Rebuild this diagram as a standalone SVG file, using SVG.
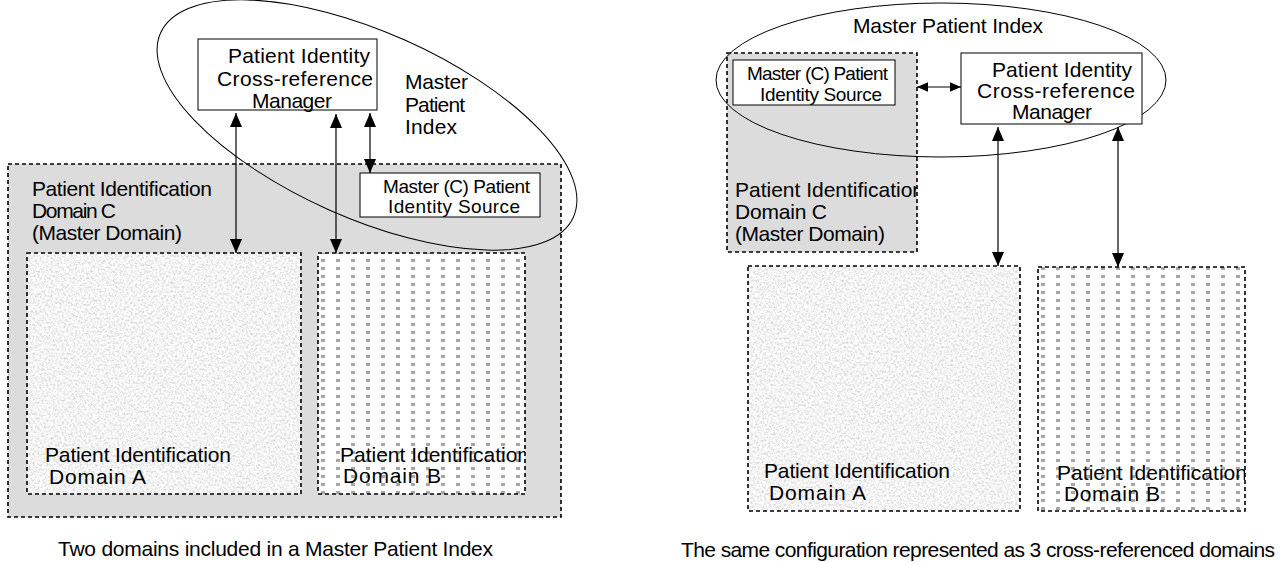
<svg xmlns="http://www.w3.org/2000/svg" width="1280" height="562" viewBox="0 0 1280 562">
<style>
text{font-family:"Liberation Sans",Arial,sans-serif;font-size:21px;fill:#000}
.sm{font-size:19px}
.dash{fill:none;stroke:#000;stroke-width:1.6;stroke-dasharray:4 3}
.gray{fill:#dcdcdc}
.box{fill:#fff;stroke:#000;stroke-width:1}
.mpi{fill:none;stroke:#000;stroke-width:1}
.conn line{stroke:#000;stroke-width:1.2;marker-start:url(#ah);marker-end:url(#ah)}
.conn line.small{marker-start:url(#ahs);marker-end:url(#ahs)}
</style>
<defs>
<marker id="ah" viewBox="0 0 14 12" refX="14" refY="6" markerWidth="14" markerHeight="12" markerUnits="userSpaceOnUse" orient="auto-start-reverse"><path d="M0,0 L14,6 L0,12 Z" fill="#000"/></marker>
<marker id="ahs" viewBox="0 0 14 12" refX="14" refY="6" markerWidth="11" markerHeight="10" markerUnits="userSpaceOnUse" orient="auto-start-reverse"><path d="M0,0 L14,6 L0,12 Z" fill="#000"/></marker>
<filter id="grain" x="0" y="0" width="1" height="1" color-interpolation-filters="sRGB">
<feTurbulence type="fractalNoise" baseFrequency="0.45" numOctaves="3" seed="7"/>
<feColorMatrix type="matrix" values="0.35 0 0 0 0.78  0.35 0 0 0 0.78  0.35 0 0 0 0.78  0 0 0 0 1"/>
</filter>
<pattern id="dots" width="15" height="8" patternUnits="userSpaceOnUse"><rect width="15" height="8" fill="#fff"/><rect x="6" y="3" width="4" height="3" fill="#a6a6a6"/></pattern>
<clipPath id="clipLB"><rect x="318" y="253" width="207" height="241"/></clipPath>
<clipPath id="clipRB"><rect x="1038" y="267" width="207" height="244"/></clipPath>
<clipPath id="clipRC"><rect x="727" y="53" width="190" height="199"/></clipPath>
</defs>

<!-- LEFT PANEL -->
<g id="left-domain-c">
<rect x="8" y="164" width="553" height="353" class="gray"/>
<rect x="8" y="164" width="553" height="353" class="dash"/>
<text x="32" y="196" textLength="180" lengthAdjust="spacing">Patient Identification</text>
<text x="32" y="218" textLength="84" lengthAdjust="spacing">Domain C</text>
<text x="32" y="240" textLength="150" lengthAdjust="spacing">(Master Domain)</text>
</g>
<g id="left-domain-a">
<rect x="27" y="253" width="274" height="241" fill="#eee" filter="url(#grain)"/>
<rect x="27" y="253" width="274" height="241" class="dash"/>
<text x="45" y="462" textLength="186" lengthAdjust="spacing">Patient Identification</text>
<text x="49" y="484" textLength="97" lengthAdjust="spacing">Domain A</text>
</g>
<g id="left-domain-b">
<rect x="318" y="253" width="207" height="241" fill="url(#dots)"/>
<rect x="318" y="253" width="207" height="241" class="dash"/>
<g clip-path="url(#clipLB)">
<text x="340" y="462" textLength="189" lengthAdjust="spacing">Patient Identification</text>
<text x="343" y="483" textLength="98" lengthAdjust="spacing">Domain B</text>
</g>
</g>
<g id="left-mpi">
<ellipse cx="367" cy="125" rx="226" ry="93" transform="rotate(24 367 125)" class="mpi"/>
<text x="405" y="89" textLength="63" lengthAdjust="spacing">Master</text>
<text x="405" y="112" textLength="60" lengthAdjust="spacing">Patient</text>
<text x="405" y="134" textLength="52" lengthAdjust="spacing">Index</text>
</g>
<g id="left-pixm">
<rect x="198" y="39" width="179" height="71" class="box"/>
<text x="228" y="63" textLength="142" lengthAdjust="spacing">Patient Identity</text>
<text x="217" y="86" textLength="156" lengthAdjust="spacing">Cross-reference</text>
<text x="252" y="108" textLength="80" lengthAdjust="spacing">Manager</text>
</g>
<g id="left-source">
<rect x="360" y="173" width="180" height="44" class="box"/>
<text x="383" y="193" class="sm" textLength="147" lengthAdjust="spacing">Master (C) Patient</text>
<text x="388" y="213" class="sm" textLength="132" lengthAdjust="spacing">Identity Source</text>
</g>

<!-- RIGHT PANEL -->
<g id="right-domain-c">
<rect x="727" y="53" width="190" height="199" class="gray"/>
<rect x="727" y="53" width="190" height="199" class="dash"/>
<g clip-path="url(#clipRC)">
<text x="735" y="197" textLength="189" lengthAdjust="spacing">Patient Identification</text>
</g>
<text x="735" y="219" textLength="92" lengthAdjust="spacing">Domain C</text>
<text x="735" y="241" textLength="150" lengthAdjust="spacing">(Master Domain)</text>
</g>
<g id="right-domain-a">
<rect x="748" y="266" width="272" height="245" fill="#eee" filter="url(#grain)"/>
<rect x="748" y="266" width="272" height="245" class="dash"/>
<text x="764" y="478" textLength="186" lengthAdjust="spacing">Patient Identification</text>
<text x="769" y="500" textLength="97" lengthAdjust="spacing">Domain A</text>
</g>
<g id="right-domain-b">
<rect x="1038" y="267" width="207" height="244" fill="url(#dots)"/>
<rect x="1038" y="267" width="207" height="244" class="dash"/>
<g clip-path="url(#clipRB)">
<text x="1057" y="480" textLength="190" lengthAdjust="spacing">Patient Identification</text>
<text x="1064" y="501" textLength="96" lengthAdjust="spacing">Domain B</text>
</g>
</g>
<g id="right-mpi">
<ellipse cx="941" cy="80" rx="225" ry="77" class="mpi"/>
<text x="853" y="33" textLength="190" lengthAdjust="spacing">Master Patient Index</text>
</g>
<g id="right-source">
<rect x="733" y="60" width="162" height="45" class="box"/>
<text x="747" y="80" class="sm" textLength="141" lengthAdjust="spacing">Master (C) Patient</text>
<text x="760" y="101" class="sm" textLength="122" lengthAdjust="spacing">Identity Source</text>
</g>
<g id="right-pixm">
<rect x="961" y="53" width="181" height="71" class="box"/>
<text x="992" y="77" textLength="140" lengthAdjust="spacing">Patient Identity</text>
<text x="977" y="98" textLength="158" lengthAdjust="spacing">Cross-reference</text>
<text x="1012" y="119" textLength="80" lengthAdjust="spacing">Manager</text>
</g>

<!-- CONNECTORS -->
<g id="connectors" class="conn">
<line x1="236" y1="113" x2="236" y2="253"/>
<line x1="336" y1="114" x2="336" y2="253"/>
<line x1="370" y1="113" x2="370" y2="173"/>
<line class="small" x1="917" y1="87" x2="961" y2="87"/>
<line x1="998" y1="127" x2="998" y2="266"/>
<line x1="1118" y1="127" x2="1118" y2="267"/>
</g>

<!-- CAPTIONS -->
<g id="captions">
<text x="58" y="556" textLength="435" lengthAdjust="spacing">Two domains included in a Master Patient Index</text>
<text x="681" y="557" textLength="594" lengthAdjust="spacing">The same configuration represented as 3 cross-referenced domains</text>
</g>
</svg>
